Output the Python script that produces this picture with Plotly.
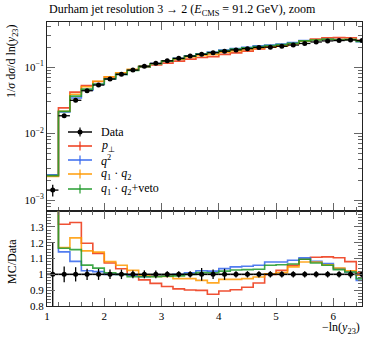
import plotly.graph_objects as go

# ---- data ----
bin_edges = [1.0, 1.2, 1.4, 1.6, 1.8, 2.0, 2.2, 2.4, 2.6, 2.8, 3.0, 3.2, 3.4, 3.6, 3.8,
             4.0, 4.2, 4.4, 4.6, 4.8, 5.0, 5.2, 5.4, 5.6, 5.8, 6.0, 6.2, 6.4, 6.6]
bin_centers = [1.1, 1.3, 1.5, 1.7, 1.9, 2.1, 2.3, 2.5, 2.7, 2.9, 3.1, 3.3, 3.5, 3.7,
               3.9, 4.1, 4.3, 4.5, 4.7, 4.9, 5.1, 5.3, 5.5, 5.7, 5.9, 6.1, 6.3, 6.5]

data_vals = [0.00141, 0.0185, 0.0316, 0.044, 0.0536, 0.066, 0.0776, 0.090, 0.103, 0.1136,
             0.124, 0.135, 0.146, 0.155, 0.164, 0.173, 0.181, 0.189, 0.197, 0.199,
             0.205, 0.214, 0.226, 0.238, 0.247, 0.250, 0.255, 0.250]
data_relerr = [0.20, 0.05, 0.045, 0.035, 0.035, 0.03, 0.03, 0.025, 0.025, 0.025,
               0.02, 0.02, 0.02, 0.04, 0.03, 0.035, 0.02, 0.02, 0.02, 0.02,
               0.02, 0.02, 0.02, 0.02, 0.02, 0.02, 0.025, 0.02]

ratio_pt = [1.65, 1.316, 1.327, 1.196, 1.132, 1.072, 1.035, 0.995, 0.965, 0.943,
            0.923, 0.908, 0.901, 0.899, 0.874, 0.895, 0.903, 0.918, 0.945, 1.0,
            1.025, 1.057, 1.095, 1.108, 1.11, 1.105, 1.08, 1.01]
ratio_q2 = [1.7, 1.142, 1.082, 1.023, 1.017, 1.0, 1.0, 0.995, 0.985, 0.99,
            0.995, 1.0, 1.01, 1.023, 1.02, 1.036, 1.047, 1.051, 1.057, 1.078,
            1.078, 1.089, 1.104, 1.082, 1.068, 1.036, 1.015, 0.962]
ratio_q1q2 = [1.6, 1.169, 1.23, 1.148, 1.14, 1.08, 1.057, 1.025, 0.994, 0.987,
              0.987, 0.973, 0.973, 0.962, 0.946, 0.968, 0.968, 0.973, 0.983, 1.004,
              1.011, 1.047, 1.078, 1.078, 1.061, 1.04, 1.023, 0.995]
ratio_veto = [1.65, 1.165, 1.156, 1.058, 1.039, 1.01, 1.0, 0.985, 0.985, 0.985,
              0.988, 0.99, 1.0, 1.011, 1.01, 1.02, 1.027, 1.03, 1.032, 1.057,
              1.061, 1.065, 1.095, 1.072, 1.057, 1.03, 1.015, 0.973]

series_names = ["<i>p</i><sub>⊥</sub>", "<i>q</i><sup>2</sup>",
                "<i>q</i><sub>1</sub> · <i>q</i><sub>2</sub>",
                "<i>q</i><sub>1</sub> · <i>q</i><sub>2</sub>+veto"]
series_ratios = [ratio_pt, ratio_q2, ratio_q1q2, ratio_veto]
series_colors = ["#ee3311", "#3366ee", "#ff9a00", "#1f9a2a"]

FONT = "Liberation Serif"

fig = go.Figure()

half_w = [0.1] * len(bin_centers)

def step(vals):
    return bin_edges, list(vals) + [vals[-1]]

for name, rat, col in zip(series_names, series_ratios, series_colors):
    mc = [d * r for d, r in zip(data_vals, rat)]
    xs, ys = step(mc)
    fig.add_trace(go.Scatter(x=xs, y=ys, mode="lines", line=dict(color=col, width=1.6, shape="hv"),
                             opacity=0.85, xaxis="x", yaxis="y", showlegend=False))
    xs, ys = step(rat)
    fig.add_trace(go.Scatter(x=xs, y=ys, mode="lines", line=dict(color=col, width=1.6, shape="hv"),
                             opacity=0.85, xaxis="x2", yaxis="y2", showlegend=False))

# data in main panel
fig.add_trace(go.Scatter(
    x=bin_centers, y=data_vals, mode="markers",
    marker=dict(color="black", size=5),
    error_x=dict(type="data", array=half_w, color="black", thickness=1.3, width=0),
    error_y=dict(type="data", array=[v * e for v, e in zip(data_vals, data_relerr)],
                 color="black", thickness=1.3, width=0),
    xaxis="x", yaxis="y", showlegend=False))

# data in ratio panel
ones = [1.0] * len(bin_centers)
fig.add_trace(go.Scatter(
    x=bin_centers, y=ones, mode="markers",
    marker=dict(color="black", size=5),
    error_x=dict(type="data", array=half_w, color="black", thickness=1.6, width=0),
    error_y=dict(type="data", array=data_relerr, color="black", thickness=1.3, width=0),
    xaxis="x2", yaxis="y2", showlegend=False))

split = 95 / 284
axcol = "#222222"
tickcol = "#666666"
common_x = dict(range=[1, 6.5], showline=True, linecolor=axcol, linewidth=1, mirror="allticks",
                ticks="inside", ticklen=8, tickcolor=tickcol, tick0=1, dtick=1,
                minor=dict(ticks="inside", ticklen=4, dtick=0.2, tickcolor=tickcol),
                showgrid=False, zeroline=False)

fig.update_layout(
    width=374, height=337,
    margin=dict(l=47, r=12, t=22, b=31),
    paper_bgcolor="white", plot_bgcolor="white",
    font=dict(family=FONT, size=11, color="black"),
    showlegend=False,
    xaxis=dict(domain=[0, 1], anchor="y", showticklabels=False, **common_x),
    xaxis2=dict(domain=[0, 1], anchor="y2", showticklabels=True,
                tickfont=dict(family=FONT, size=11), **common_x),
    yaxis=dict(domain=[split, 1], anchor="x", type="log", range=[-3.165, -0.323],
               showline=True, linecolor=axcol, linewidth=1, mirror="allticks",
               ticks="inside", ticklen=8, tickcolor=tickcol,
               tickvals=[0.001, 0.01, 0.1],
               ticktext=["10<sup>−3</sup>", "10<sup>−2</sup>", "10<sup>−1</sup>"],
               minor=dict(ticks="inside", ticklen=4, tickcolor=tickcol,
                          tickvals=[k * 10 ** p for p in (-4, -3, -2, -1) for k in range(2, 10)]),
               showgrid=False, zeroline=False, tickfont=dict(family=FONT, size=11)),
    yaxis2=dict(domain=[0, split], anchor="x2", range=[0.8, 1.4],
                showline=True, linecolor=axcol, linewidth=1, mirror="allticks",
                ticks="inside", ticklen=8, tickcolor=tickcol,
                tickvals=[0.8, 0.9, 1.0, 1.1, 1.2, 1.3],
                ticktext=["0.8", "0.9", "1", "1.1", "1.2", "1.3"],
                minor=dict(ticks="inside", ticklen=4, dtick=0.02, tickcolor=tickcol),
                showgrid=False, zeroline=False, tickfont=dict(family=FONT, size=11)),
)

annotations = [
    dict(text="Durham jet resolution 3 → 2 (<i>E</i><sub>CMS</sub> = 91.2 GeV), zoom",
         xref="paper", yref="paper", x=0, y=1, xanchor="left", yanchor="bottom", yshift=2,
         showarrow=False, font=dict(family=FONT, size=12)),
    dict(text="1/<i>σ</i> d<i>σ</i>/d ln(<i>y</i><sub>23</sub>)", textangle=-90,
         xref="paper", yref="paper", x=-35 / 315, y=1, xanchor="center", yanchor="top",
         showarrow=False, font=dict(family=FONT, size=12)),
    dict(text="MC/Data", textangle=-90,
         xref="paper", yref="paper", x=-35 / 315, y=(306 - 262) / 284, xanchor="center",
         yanchor="middle", showarrow=False, font=dict(family=FONT, size=12)),
    dict(text="−ln(<i>y</i><sub>23</sub>)", xref="paper", yref="paper", x=1, y=-22 / 284,
         xanchor="right", yanchor="middle", showarrow=False, font=dict(family=FONT, size=12)),
]

# manual legend
leg_y_px = [132, 146, 160, 174, 189]
leg_labels = ["Data"] + series_names
leg_colors = ["black"] + series_colors
shapes = []
x0, x1, xt = (68 - 47) / 315, (92 - 47) / 315, (99 - 47) / 315
xm = (x0 + x1) / 2
for ypx, lab, col in zip(leg_y_px, leg_labels, leg_colors):
    yp = (306 - ypx) / 284
    shapes.append(dict(type="line", xref="paper", yref="paper", x0=x0, x1=x1, y0=yp, y1=yp,
                       line=dict(color=col, width=1.6), opacity=0.9))
    dy = 4.5 / 284
    shapes.append(dict(type="line", xref="paper", yref="paper", x0=xm, x1=xm, y0=yp - dy, y1=yp + dy,
                       line=dict(color=col, width=1.3), opacity=0.9))
    if col == "black":
        r = 2.5
        shapes.append(dict(type="circle", xref="paper", yref="paper",
                           x0=xm - r / 315, x1=xm + r / 315, y0=yp - r / 284, y1=yp + r / 284,
                           fillcolor="black", line=dict(color="black", width=0)))
    annotations.append(dict(text=lab, xref="paper", yref="paper", x=xt, y=yp,
                            xanchor="left", yanchor="middle", showarrow=False,
                            font=dict(family=FONT, size=12)))

fig.update_layout(annotations=annotations, shapes=shapes)
fig.write_html("out.html", config={"displayModeBar": False},
               post_script="document.body.style.margin='0';document.body.style.padding='0';")
